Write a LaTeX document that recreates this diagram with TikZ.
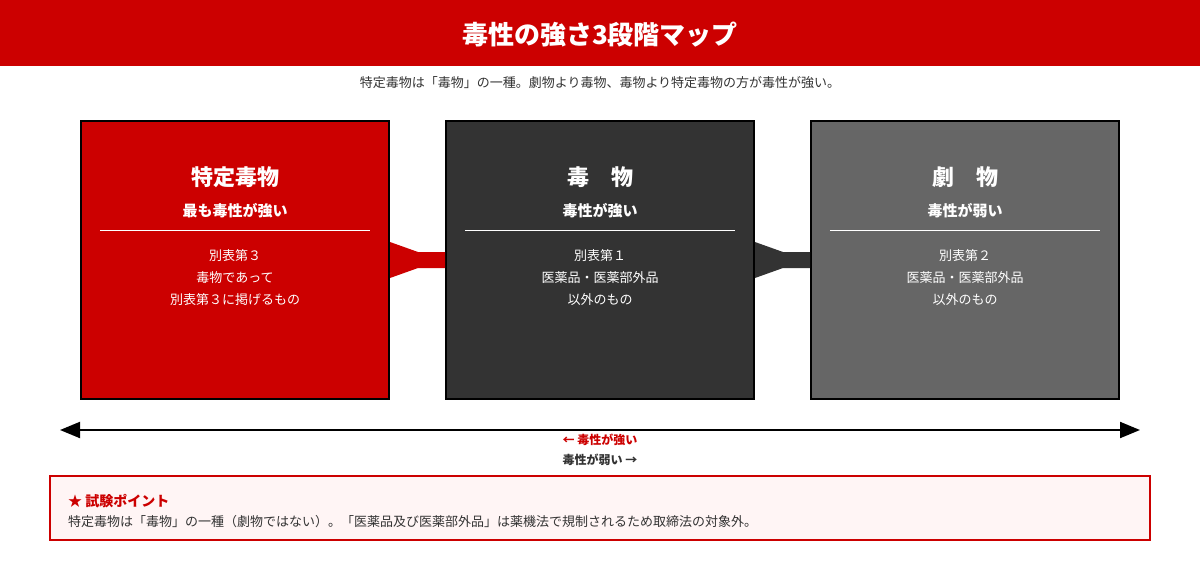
\documentclass[tikz,border=0pt]{standalone}
\usepackage{fontspec}
\setmainfont{Noto Sans CJK JP}
\usetikzlibrary{positioning,arrows.meta}
\definecolor{dokured}{HTML}{CC0000}
\definecolor{dokudark}{HTML}{333333}
\definecolor{dokugray}{HTML}{666666}
\definecolor{notebg}{HTML}{FFF5F5}

\begin{document}
\begin{tikzpicture}[x=1pt,y=-1pt,
    box/.style={draw=black,line width=2pt,minimum width=308pt,minimum height=278pt,inner sep=0pt},
    boxtitle/.style={text=white,font=\bfseries\fontsize{22}{26}\selectfont},
    boxsub/.style={text=white,font=\bfseries\fontsize{15}{18}\selectfont},
    boxbody/.style={text=white,font=\fontsize{13}{22}\selectfont,align=center},
    toxaxis/.style={line width=2pt,{Triangle[length=20pt,width=16pt]}-{Triangle[length=20pt,width=16pt]}}]
    %frame
    \useasboundingbox (0,0) rectangle (1200,560);
    % Header
    \fill[dokured] (0,0) rectangle (1200,66);
    \node[text=white,font=\bfseries\fontsize{26}{30}\selectfont] (title) at (600,35) {毒性の強さ3段階マップ};
    \node[text=dokudark,font=\fontsize{13}{16}\selectfont] (lead) at (600,83) {特定毒物は「毒物」の一種。劇物より毒物、毒物より特定毒物の方が毒性が強い。};
    % Boxes
    \foreach \n/\x/\c/\t/\s/\b in {
        tok/235/dokured/特定毒物/最も毒性が強い/{別表第３\\毒物であって\\別表第３に掲げるもの},
        doku/600/dokudark/毒　物/毒性が強い/{別表第１\\医薬品・医薬部外品\\以外のもの},
        geki/965/dokugray/劇　物/毒性が弱い/{別表第２\\医薬品・医薬部外品\\以外のもの}}
    {
        \node[box,fill=\c] (\n) at (\x,260) {};
        \node[boxtitle] (\n-t) at ([yshift=-57pt]\n.north) {\t};
        \node[boxsub] (\n-s) at ([yshift=-91pt]\n.north) {\s};
        \draw[white,line width=1pt] ([xshift=20pt,yshift=-110pt]\n.north west) -- ([xshift=-20pt,yshift=-110pt]\n.north east);
        \node[boxbody] (\n-b) at ([yshift=-158pt]\n.north) {\b};
    }
    % Links
    \fill[dokured] ([yshift=18pt]tok.east) -- ([xshift=28pt,yshift=8pt]tok.east) -- ([yshift=8pt]doku.west)
        -- ([yshift=-8pt]doku.west) -- ([xshift=28pt,yshift=-8pt]tok.east) -- ([yshift=-18pt]tok.east) -- cycle;
    \fill[dokudark] ([yshift=18pt]doku.east) -- ([xshift=28pt,yshift=8pt]doku.east) -- ([yshift=8pt]geki.west)
        -- ([yshift=-8pt]geki.west) -- ([xshift=28pt,yshift=-8pt]doku.east) -- ([yshift=-18pt]doku.east) -- cycle;
    % Axis
    \coordinate (sl) at (60,430);
    \coordinate (sr) at (1140,430);
    \draw[toxaxis] (sl) -- (sr);
    \node[text=dokured,font=\bfseries\fontsize{12}{14}\selectfont] (strong) at (600,440) {← 毒性が強い};
    \node[text=dokudark,font=\bfseries\fontsize{12}{14}\selectfont] (weak) at (600,460) {毒性が弱い →};
    % Note
    \draw[dokured,line width=2pt,fill=notebg] (50,476) rectangle (1150,540);
    \node[anchor=west,inner sep=0pt,text=dokured,font=\bfseries\fontsize{14}{16}\selectfont] (point) at (68,501) {★ 試験ポイント};
    \node[anchor=west,inner sep=0pt,text=dokudark,font=\fontsize{13}{16}\selectfont] (pointtext) at (68,522) {特定毒物は「毒物」の一種（劇物ではない）。「医薬品及び医薬部外品」は薬機法で規制されるため取締法の対象外。};
\end{tikzpicture}
\end{document}
